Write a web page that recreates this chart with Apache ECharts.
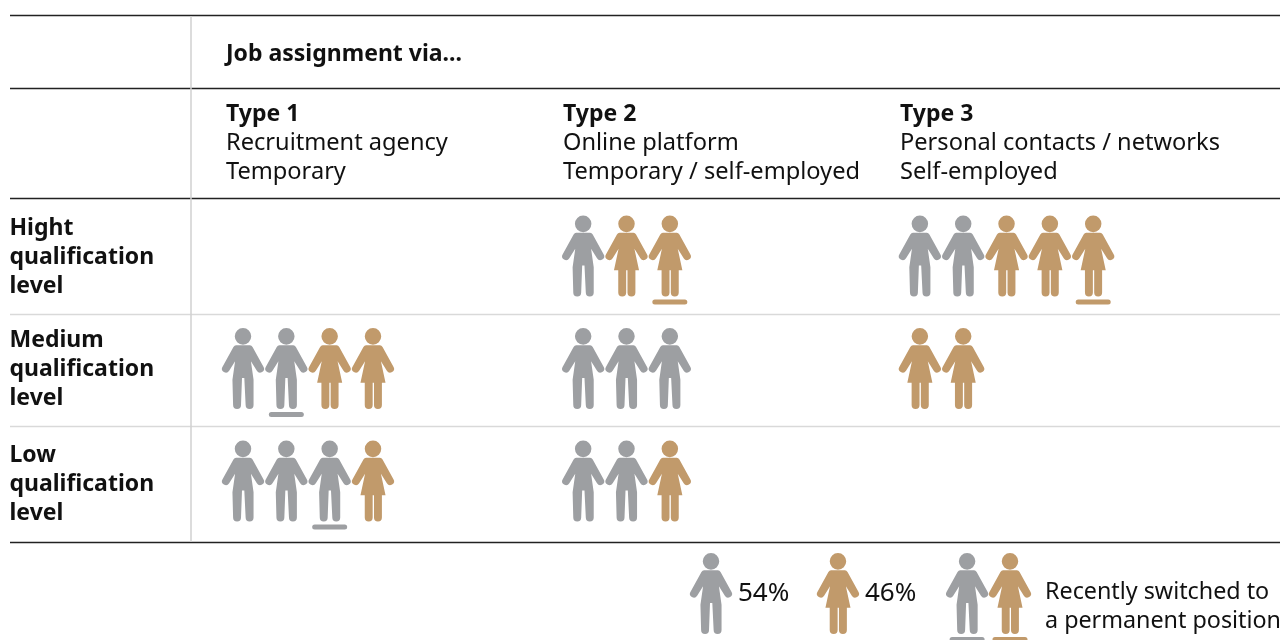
<!DOCTYPE html>
<html>
<head>
<meta charset="utf-8">
<style>html,body{margin:0;padding:0;background:#fff}#chart{width:1283px;height:640px}</style>
<script src="https://cdn.jsdelivr.net/npm/echarts@6/dist/echarts.min.js"></script>
</head>
<body>
<div id="chart"></div>
<script>
// table content
var levels = ['Hight\nqualification\nlevel', 'Medium\nqualification\nlevel', 'Low\nqualification\nlevel', ''];
var levelTextTop = [213.5, 325.5, 440.5];
var typeNames = ['Type 1', 'Type 2', 'Type 3'];
var typeLines = [
    'Recruitment agency\nTemporary',
    'Online platform\nTemporary / self-employed',
    'Personal contacts / networks\nSelf-employed'
];
var typeStart = [0, 7.85, 15.62];   // first icon slot of each type

// icons per level (rows) and type (columns)
var menCount = [[0, 1, 2], [2, 3, 0], [3, 2, 0]];
var womenCount = [[0, 2, 3], [2, 0, 2], [1, 1, 0]];
// slot of the underlined icon, -1 for none
var switchedSlot = [[-1, 2, 4], [1, -1, -1], [2, -1, -1]];

var legendMan = [[10.8, '54%']];
var legendWoman = [[13.73, '46%']];
var legendPair = [16.71, 17.7];
var legendNote = 'Recently switched to\na permanent position';

var grey = '#9d9fa2';
var tan = '#c19a6b';
var ink = '#111';
var font = '"Noto Sans"';

var manPath = 'path://M63 0a25 25 0 1 0 .01 0zM42 52H84Q89 52 92 57L125 116A11.5 11.5 0 0 1 105 128L87 100L95 155V231A12 12 0 0 1 71 231L67 150H60L57 231A12 12 0 0 1 33 231L31 155L39 100L21 128A11.5 11.5 0 0 1 1 116L34 57Q37 52 42 52z';
var womanPath = 'path://M63 0a25 25 0 1 0 .01 0zM42 52H84Q89 52 92 57L125 116A11.5 11.5 0 0 1 105 128L87 100L101 164H90V231A12 12 0 0 1 66 231V164H62V231A12 12 0 0 1 38 231V164H25L39 100L21 128A11.5 11.5 0 0 1 1 116L34 57Q37 52 42 52z';
var barPath = 'path://M2.5 0H32.5A2.5 2.5 0 0 1 32.5 5H2.5A2.5 2.5 0 0 1 2.5 0z';

var manData = [], womanData = [], barMan = [], barWoman = [];
menCount.forEach(function (row, r) {
    row.forEach(function (n, c) {
        var w = womenCount[r][c];
        for (var i = 0; i < n; i++) manData.push([typeStart[c] + i, r]);
        for (var j = 0; j < w; j++) womanData.push([typeStart[c] + n + j, r]);
        var s = switchedSlot[r][c];
        if (s >= 0) (s < n ? barMan : barWoman).push([typeStart[c] + s, r]);
    });
});
manData.push([legendPair[0], 3]);
womanData.push([legendPair[1], 3]);
barMan.push([legendPair[0], 3]);
barWoman.push([legendPair[1], 3]);

function iconSeries(path, color, data) {
    return {type: 'scatter', symbol: path, symbolSize: [42, 81], itemStyle: {color: color, opacity: 1}, data: data, silent: true, z: 3};
}
function barSeries(color, data) {
    return {type: 'scatter', symbol: barPath, symbolSize: [35, 5], symbolOffset: [0, 46], itemStyle: {color: color, opacity: 1}, data: data, silent: true, z: 3};
}
function legendSeries(path, color, item) {
    return {
        type: 'scatter', symbol: path, symbolSize: [42, 81], itemStyle: {color: color, opacity: 1}, silent: true, z: 3,
        data: [{value: [item[0][0], 3], name: item[0][1]}],
        label: {show: true, position: 'right', distance: 6, formatter: '{b}', fontFamily: font, fontSize: 26, color: ink}
    };
}
function rule(y, color, w) {
    return {type: 'line', shape: {x1: 10, y1: y, x2: 1280, y2: y}, style: {stroke: color, lineWidth: w}};
}
function text(x, y, str, bold, size) {
    return {type: 'text', x: x, y: y, style: {text: str, x: 0, y: 0, fill: ink, fontFamily: font, fontSize: size || (bold ? 23 : 23.6), fontWeight: bold ? 'bold' : 'normal', lineHeight: 29, verticalAlign: 'top'}};
}

var graphics = [
    rule(15.5, '#222', 1.4), rule(88.5, '#222', 1.4), rule(198.5, '#222', 1.4),
    rule(314.5, '#d9d9d9', 1.5), rule(426.5, '#d9d9d9', 1.5), rule(542.5, '#222', 1.4),
    {type: 'line', shape: {x1: 191, y1: 16, x2: 191, y2: 542}, style: {stroke: '#d0d0d0', lineWidth: 1.5}},
    text(226, 39.5, 'Job assignment via...', true),
    text(1045, 578, legendNote, false, 23.3)
];
typeNames.forEach(function (name, i) {
    var x = 226 + 337 * i;
    graphics.push(text(x, 99.5, name, true));
    graphics.push(text(x, 128.5, typeLines[i], false));
});
levelTextTop.forEach(function (top, i) {
    graphics.push(text(9.5, top, levels[i], true));
});

var option = {
    animation: false,
    grid: {left: 190, top: 199.75, width: 1093, height: 450, outerBoundsMode: 'none'},
    xAxis: {type: 'value', min: -1.223, max: 24, show: false},
    yAxis: {
        type: 'category', inverse: true, data: levels,
        axisLine: {show: false}, axisTick: {show: false}, splitLine: {show: false}, axisLabel: {show: false}
    },
    graphic: graphics,
    series: [
        iconSeries(manPath, grey, manData),
        iconSeries(womanPath, tan, womanData),
        barSeries(grey, barMan),
        barSeries(tan, barWoman),
        legendSeries(manPath, grey, legendMan),
        legendSeries(womanPath, tan, legendWoman)
    ]
};

var myChart = echarts.init(document.getElementById('chart'));
myChart.setOption(option);
</script>
</body>
</html>
